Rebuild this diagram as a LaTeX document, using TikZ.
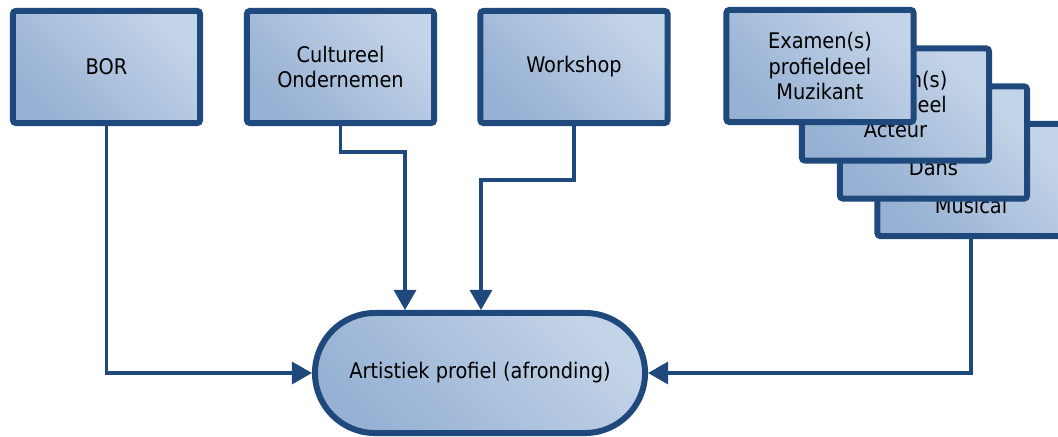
\documentclass[tikz,border=0pt]{standalone}
\usepackage{fontspec}
\setmainfont{DejaVu Sans Condensed}
\usetikzlibrary{arrows.meta}

\definecolor{lijn}{RGB}{31,73,125}
\definecolor{vullicht}{RGB}{196,212,232}
\definecolor{vuldonker}{RGB}{150,177,211}

\tikzset{
    blok/.style = {draw = lijn, line width = 0.15cm, rounded corners = 2pt,
        top color = vullicht, bottom color = vuldonker, shading angle = -45,
        minimum width = 4.675cm, minimum height = 2.8cm, align = center,
        font = {\fontsize{15.3}{17.8}\selectfont}},
    pijl/.style = {draw = lijn, line width = 0.08cm,
        -{Triangle[length = 0.5cm, width = 0.55cm]}}
}

\begin{document}
\begin{tikzpicture}[x = 0.025cm, y = -0.025cm]
        \useasboundingbox (0, 0) rectangle (1058, 436);
        \clip (0, 0) rectangle (1058, 436);

        % bovenste rij
        \node[blok] (bor) at (106.5, 67) {BOR};
        \node[blok] (cult) at (340.5, 67) {Cultureel\\Ondernemen};
        \node[blok] (work) at (574, 67) {Workshop};

        % stapel examens
        \node[blok] (mus) at (971, 180) {Examen(s)\\profieldeel\\Musical};
        \node[blok] (dans) at (933.5, 142.5) {Examen(s)\\profieldeel\\Dans};
        \node[blok] (act) at (895.5, 104.5) {Examen(s)\\profieldeel\\Acteur};
        \node[blok] (muz) at (820, 66) {Examen(s)\\profieldeel\\Muzikant};

        % afronding
        \node[blok, rounded corners = 1.5cm, minimum width = 8.25cm,
            minimum height = 3cm] (art) at (480, 373) {Artistiek profiel (afronding)};

        % verbindingen
        \coordinate (cknik) at (405, 152);
        \coordinate (wknik) at (481, 180);
        \draw[pijl] (bor.south) |- (art.west);
        \draw[pijl] (cult.south) |- (cknik) -- (cknik |- art.north);
        \draw[pijl] (work.south) |- (wknik) -- (wknik |- art.north);
        \draw[pijl] (mus.south) |- (art.east);

    \end{tikzpicture}
\end{document}
